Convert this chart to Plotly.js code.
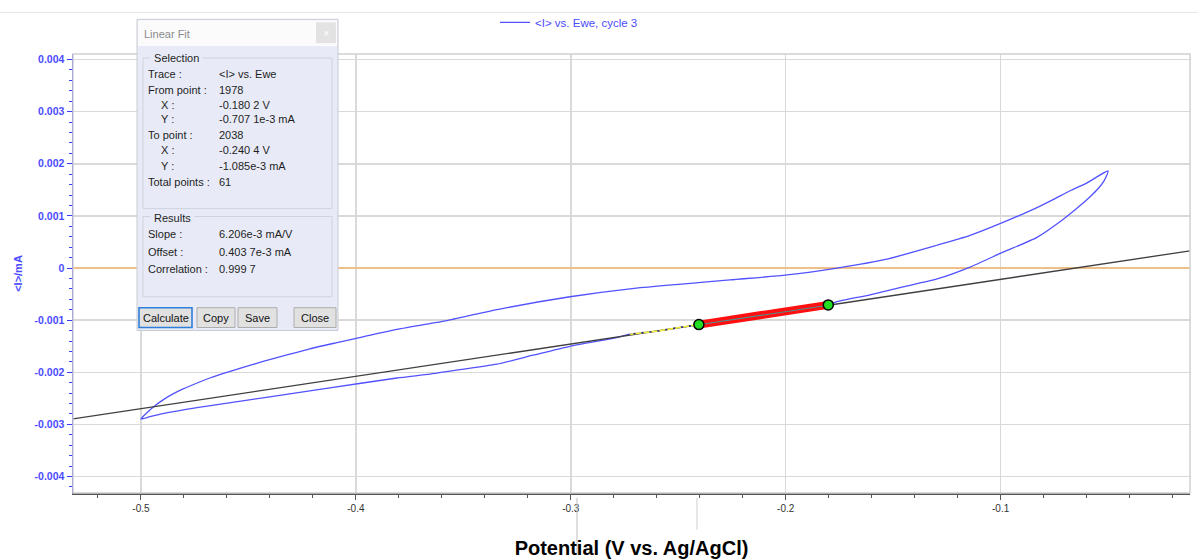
<!DOCTYPE html>
<html>
<head>
<meta charset="utf-8">
<script src="https://cdn.plot.ly/plotly-3.0.1.min.js"></script>
<style>
  html, body { margin: 0; padding: 0; background: #ffffff; }
  #chart { width: 1198px; height: 560px; }
</style>
</head>
<body>
<div id="chart"></div>
<script>
// Cyclic voltammogram, cycle 3: <I> (mA) against Ewe (V vs. Ag/AgCl)
// Anodic sweep, -0.5 V -> -0.05 V
const sweepUpEwe = [-0.5000, -0.4967, -0.4935, -0.4897, -0.4855, -0.4804, -0.4744, -0.4679, -0.4604,
  -0.4521, -0.4427, -0.4325, -0.4214, -0.4093, -0.3967, -0.3809, -0.3655, -0.3576, -0.3343, -0.3004,
  -0.2724, -0.2259, -0.1994, -0.1761, -0.1529, -0.1296, -0.1142, -0.0989, -0.0831, -0.0756, -0.0677,
  -0.0598, -0.0500];
const sweepUpI = [-0.002896, -0.002757, -0.002643, -0.002529, -0.002424, -0.002319, -0.002215, -0.002110, -0.002006,
  -0.001901, -0.001787, -0.001673, -0.001550, -0.001436, -0.001322, -0.001179, -0.001065, -0.001008, -0.000798, -0.000551,
  -0.000399, -0.000228, -0.000133, 0.000000, 0.000171, 0.000437, 0.000627, 0.000875, 0.001160, 0.001312, 0.001483,
  0.001635, 0.001863];
// Cathodic sweep, -0.05 V -> -0.5 V
const sweepDownEwe = [-0.0519, -0.0547, -0.0584, -0.0630, -0.0710, -0.0831, -0.0989, -0.1142, -0.1296, -0.1454,
  -0.1608, -0.1761, -0.1802, -0.2000, -0.2200, -0.2404, -0.2600, -0.2724, -0.2804, -0.3004, -0.3175, -0.3343,
  -0.3562, -0.3655, -0.3809, -0.4121, -0.4432, -0.4739, -0.4898, -0.4958, -0.5000];
const sweepDownI = [0.001673, 0.001521, 0.001369, 0.001198, 0.000932, 0.000589, 0.000304, 0.000019, -0.000209, -0.000361,
  -0.000513, -0.000646, -0.0007071, -0.000840, -0.000960, -0.001085, -0.001210, -0.001270, -0.001350, -0.001502, -0.001673, -0.001844,
  -0.001977, -0.002034, -0.002110, -0.002300, -0.002490, -0.002680, -0.002795, -0.002852, -0.002896];

// Linear fit results (points 1978 -> 2038)
const fitSlope = 0.006206;
const fitOffset = 0.0004037;
const fitFromEwe = -0.1802, fitFromI = -0.0007071;
const fitToEwe = -0.2404, fitToI = -0.001085;
const fitFromPoint = 1978, fitToPoint = 2038, fitTotalPoints = 61;
const fitCorrelation = '0.999 7';

// Axis ticks
const xTickVals = [-0.5, -0.4, -0.3, -0.2, -0.1];
const xTickText = ['-0.5', '-0.4', '-0.3', '-0.2', '-0.1'];
const yTickVals = [-0.004, -0.003, -0.002, -0.001, 0, 0.001, 0.002, 0.003, 0.004];
const yTickText = ['-0.004', '-0.003', '-0.002', '-0.001', '0', '0.001', '0.002', '0.003', '0.004'];

const xRange = [-0.5316, -0.0119];
const yRange = [-0.004316, 0.004106];

// ---- traces ----
const cvEwe = sweepUpEwe.concat(sweepDownEwe);
const cvI = sweepUpI.concat(sweepDownI);

const lo = Math.min(fitFromEwe, fitToEwe), hi = Math.max(fitFromEwe, fitToEwe);
const selEwe = [], selI = [];
sweepDownEwe.forEach((v, k) => { if (v >= lo - 1e-9 && v <= hi + 1e-9) { selEwe.push(v); selI.push(sweepDownI[k]); } });

const extEwe = [], extI = [];
sweepDownEwe.forEach((v, k) => { if (v <= fitToEwe + 1e-9 && v >= -0.2725) { extEwe.push(v); extI.push(sweepDownI[k]); } });

const traces = [
  { // zero current reference
    x: xRange, y: [0, 0], mode: 'lines', showlegend: false, hoverinfo: 'skip',
    line: { color: '#f7b46e', width: 1.6 }
  },
  {
    x: cvEwe, y: cvI, mode: 'lines', name: '&lt;I&gt; vs. Ewe, cycle 3',
    line: { color: '#5252ff', width: 1.3, shape: 'spline', smoothing: 0.6 }
  },
  { // fit line across the full window
    x: xRange, y: xRange.map(v => fitSlope * v + fitOffset), mode: 'lines', showlegend: false,
    line: { color: '#3f3f3f', width: 1.3 }
  },
  {
    x: extEwe, y: extI, mode: 'lines', showlegend: false,
    line: { color: '#f2ee3c', width: 1.6 }
  },
  {
    x: extEwe, y: extI, mode: 'lines', showlegend: false,
    line: { color: '#1a1a8c', width: 1.6, dash: '2px,6px' }
  },
  { // selected points
    x: selEwe, y: selI, mode: 'lines', showlegend: false,
    line: { color: '#ff1010', width: 8 }
  },
  {
    x: [fitFromEwe, fitToEwe], y: [fitSlope * fitFromEwe + fitOffset, fitSlope * fitToEwe + fitOffset],
    mode: 'lines', showlegend: false, line: { color: '#4f8f8f', width: 1.2 }
  },
  {
    x: [fitFromEwe, fitToEwe], y: [fitFromI, fitToI], mode: 'markers', showlegend: false,
    marker: { color: '#22dd22', size: 10, line: { color: '#000000', width: 1.5 } }
  }
];

// ---- dialog panel (pixel helpers for the overlay) ----
const L = 73, T = 50, W = 1117, H = 443;
const px = v => (v - L) / W;
const py = v => (T + H - v) / H;

const shapes = [];
const annotations = [];
function rect(x0, y0, x1, y1, fill, line, lw) {
  shapes.push({ type: 'rect', xref: 'paper', yref: 'paper', layer: 'above',
    x0: px(x0), x1: px(x1), y0: py(y1), y1: py(y0),
    fillcolor: fill, line: { color: line || 'rgba(0,0,0,0)', width: lw === undefined ? 1 : lw } });
}
function seg(x0, y0, x1, y1, color, w) {
  shapes.push({ type: 'line', xref: 'paper', yref: 'paper', layer: 'above',
    x0: px(x0), x1: px(x1), y0: py(y0), y1: py(y1), line: { color: color, width: w || 1 } });
}
function text(x, y, s, opts) {
  opts = opts || {};
  annotations.push({ xref: 'paper', yref: 'paper', x: px(x), y: py(y), text: s, showarrow: false,
    xanchor: opts.anchor || 'left', yanchor: 'middle',
    font: { family: 'Liberation Sans, Arial, sans-serif', size: opts.size || 11, color: opts.color || '#1e1e1e' },
    bgcolor: opts.bg, borderpad: 0 });
}

// frame lines
seg(0, 8, 1198, 8, '#e6e6e6', 1);
rect(73, 50, 1190, 493, 'rgba(0,0,0,0)', '#d0d0d0', 1.5);
seg(577, 498, 577, 555, '#bdbdbd', 1);
seg(697, 498, 697, 530, '#cfcfcf', 1);

// window
rect(137, 15, 338, 329, '#e8ebf7', '#c9cbd3', 1);
rect(138, 16, 337, 42, '#fbfbfb', null, 0);
rect(316, 18, 336, 39, '#e3e3e3', null, 0);
text(326, 29, '×', { anchor: 'center', size: 11, color: '#ffffff' });
text(143, 30, 'Linear Fit', { size: 11, color: '#8a8a8a' });

// group boxes
rect(143, 54, 332, 206, 'rgba(0,0,0,0)', '#cfd3e0', 1);
text(150, 54, ' Selection ', { bg: '#e8ebf7' });
rect(143, 214, 332, 295, 'rgba(0,0,0,0)', '#cfd3e0', 1);
text(150, 215, ' Results ', { bg: '#e8ebf7' });

const rowsSel = [
  [150, 70, 'Trace :', '&lt;I&gt; vs. Ewe'],
  [150, 86, 'From point :', String(fitFromPoint)],
  [163, 101, 'X :', '-0.180 2 V'],
  [163, 116, 'Y :', '-0.707 1e-3 mA'],
  [150, 132, 'To point :', String(fitToPoint)],
  [163, 147, 'X :', '-0.240 4 V'],
  [163, 163, 'Y :', '-1.085e-3 mA'],
  [150, 179, 'Total points :', String(fitTotalPoints)],
  [150, 232, 'Slope :', '6.206e-3 mA/V'],
  [150, 250, 'Offset :', '0.403 7e-3 mA'],
  [150, 267, 'Correlation :', fitCorrelation]
];
rowsSel.forEach(r => { text(r[0] - 3, r[1], r[2]); text(218, r[1], r[3]); });

// buttons
[[139, 192, 'Calculate', '#2f7fd8'], [197, 235, 'Copy', '#adadad'], [238, 277, 'Save', '#adadad'], [294, 336, 'Close', '#adadad']]
  .forEach(b => {
    rect(b[0], 306, b[1], 326, '#e1e1e1', b[3], b[3] === '#adadad' ? 1 : 1.6);
    text((b[0] + b[1]) / 2, 316, b[2], { anchor: 'center', size: 11, color: '#111111' });
  });

const layout = {
  width: 1198, height: 560,
  margin: { l: 73, r: 8, t: 50, b: 67 },
  paper_bgcolor: '#ffffff', plot_bgcolor: '#ffffff',
  showlegend: true,
  legend: {
    orientation: 'h', x: px(495), y: py(18), xanchor: 'left', yanchor: 'middle',
    font: { family: 'Liberation Sans, Arial, sans-serif', size: 11.5, color: '#4b4bff' },
    bgcolor: 'rgba(0,0,0,0)', itemwidth: 30
  },
  xaxis: {
    range: xRange, tickmode: 'array', tickvals: xTickVals, ticktext: xTickText,
    showgrid: true, gridcolor: '#d9d9d9', gridwidth: 1.5, zeroline: false,
    showline: true, linecolor: '#555555', linewidth: 1.5,
    ticks: 'outside', ticklen: 5, tickcolor: '#555555', tickwidth: 1,
    minor: { dtick: 0.02, ticklen: 3, tickcolor: '#555555', showgrid: false },
    tickfont: { family: 'Liberation Sans, Arial, sans-serif', size: 10, color: '#333333' },
    title: { text: 'Potential (V vs. Ag/AgCl)', standoff: 28,
      font: { family: 'Liberation Sans, Arial, sans-serif', size: 20, color: '#000000', weight: 'bold' } }
  },
  yaxis: {
    range: yRange, tickmode: 'array', tickvals: yTickVals, ticktext: yTickText,
    showgrid: true, gridcolor: '#d9d9d9', gridwidth: 1.5, zeroline: false,
    showline: true, linecolor: '#3a3aff', linewidth: 1.5,
    ticks: 'outside', ticklen: 5, tickcolor: '#3a3aff', tickwidth: 1,
    minor: { dtick: 0.0002, ticklen: 3, tickcolor: '#3a3aff', showgrid: false },
    tickfont: { family: 'Liberation Sans, Arial, sans-serif', size: 10.5, color: '#4b4bff', weight: 'bold' },
    title: { text: '&lt;I&gt;/mA', standoff: 10,
      font: { family: 'Liberation Sans, Arial, sans-serif', size: 11, color: '#4b4bff', weight: 'bold' } }
  },
  shapes: shapes,
  annotations: annotations
};

Plotly.newPlot('chart', traces, layout, { displayModeBar: false, staticPlot: true });
</script>
</body>
</html>
